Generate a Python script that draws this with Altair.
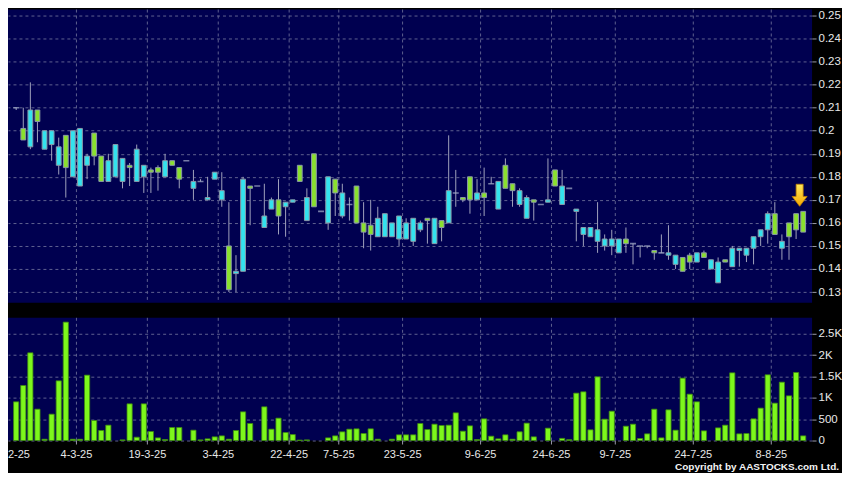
import altair as alt
import pandas as pd

# ---------------- data ----------------
opens = [0.210, 0.201, 0.193, 0.209, 0.192, 0.194, 0.185, 0.198, 0.180, 0.176,
         0.185, 0.199, 0.189, 0.178, 0.180, 0.178, 0.185, 0.178, 0.180, 0.183,
         0.184, 0.180, 0.187, 0.184, 0.187, 0.175, 0.178, 0.170, 0.179, 0.170,
         0.150, 0.138, 0.139, 0.176, 0.176, 0.158, 0.166, 0.170, 0.167, 0.169,
         0.185, 0.161, 0.190, 0.165, 0.160, 0.179, 0.163, 0.168, 0.176, 0.160,
         0.159, 0.154, 0.154, 0.154, 0.153, 0.153, 0.152, 0.157, 0.162, 0.151,
         0.161, 0.160, 0.173, 0.171, 0.180, 0.170, 0.173, 0.177, 0.166, 0.185,
         0.177, 0.168, 0.162, 0.170, 0.168, 0.169, 0.183, 0.168, 0.175, 0.165,
         0.155, 0.154, 0.152, 0.150, 0.150, 0.147, 0.153, 0.151, 0.150, 0.150,
         0.148, 0.147, 0.146, 0.142, 0.145, 0.146, 0.143, 0.147, 0.140, 0.134,
         0.144, 0.141, 0.148, 0.146, 0.149, 0.154, 0.157, 0.164, 0.149, 0.160,
         0.164, 0.165]
highs = [0.210, 0.210, 0.221, 0.209, 0.200, 0.200, 0.197, 0.198, 0.200, 0.201,
         0.190, 0.199, 0.189, 0.190, 0.194, 0.188, 0.186, 0.194, 0.185, 0.184,
         0.185, 0.190, 0.187, 0.184, 0.187, 0.183, 0.179, 0.180, 0.182, 0.182,
         0.169, 0.146, 0.180, 0.176, 0.176, 0.177, 0.171, 0.179, 0.169, 0.170,
         0.185, 0.175, 0.190, 0.165, 0.180, 0.179, 0.177, 0.171, 0.176, 0.169,
         0.170, 0.167, 0.164, 0.160, 0.163, 0.162, 0.162, 0.161, 0.162, 0.162,
         0.161, 0.198, 0.183, 0.171, 0.180, 0.179, 0.184, 0.180, 0.178, 0.188,
         0.177, 0.175, 0.172, 0.170, 0.168, 0.188, 0.183, 0.183, 0.175, 0.166,
         0.158, 0.158, 0.169, 0.155, 0.157, 0.153, 0.158, 0.151, 0.150, 0.150,
         0.148, 0.155, 0.159, 0.146, 0.145, 0.147, 0.147, 0.148, 0.144, 0.145,
         0.144, 0.150, 0.149, 0.149, 0.154, 0.157, 0.165, 0.169, 0.155, 0.160,
         0.164, 0.165]
lows = [0.209, 0.196, 0.192, 0.195, 0.192, 0.187, 0.181, 0.171, 0.180, 0.176,
        0.179, 0.185, 0.178, 0.178, 0.180, 0.175, 0.176, 0.178, 0.173, 0.173,
        0.174, 0.180, 0.185, 0.175, 0.187, 0.170, 0.178, 0.170, 0.179, 0.167,
        0.130, 0.130, 0.139, 0.159, 0.176, 0.158, 0.166, 0.155, 0.154, 0.169,
        0.178, 0.161, 0.167, 0.165, 0.157, 0.163, 0.162, 0.161, 0.160, 0.149,
        0.148, 0.154, 0.154, 0.154, 0.150, 0.153, 0.150, 0.156, 0.151, 0.151,
        0.152, 0.160, 0.167, 0.169, 0.164, 0.170, 0.163, 0.177, 0.166, 0.175,
        0.167, 0.167, 0.162, 0.161, 0.168, 0.169, 0.176, 0.168, 0.175, 0.152,
        0.150, 0.154, 0.147, 0.148, 0.146, 0.147, 0.147, 0.142, 0.145, 0.149,
        0.144, 0.147, 0.144, 0.140, 0.139, 0.140, 0.143, 0.145, 0.140, 0.134,
        0.143, 0.141, 0.141, 0.143, 0.142, 0.150, 0.151, 0.155, 0.144, 0.144,
        0.153, 0.156]
closes = [0.210, 0.196, 0.209, 0.204, 0.200, 0.200, 0.193, 0.184, 0.200, 0.201,
          0.189, 0.189, 0.178, 0.187, 0.194, 0.188, 0.184, 0.192, 0.185, 0.182,
          0.182, 0.187, 0.185, 0.179, 0.187, 0.178, 0.178, 0.171, 0.182, 0.174,
          0.131, 0.139, 0.179, 0.175, 0.176, 0.163, 0.170, 0.163, 0.169, 0.170,
          0.178, 0.171, 0.167, 0.165, 0.180, 0.173, 0.173, 0.168, 0.160, 0.156,
          0.155, 0.162, 0.164, 0.160, 0.163, 0.160, 0.162, 0.160, 0.161, 0.162,
          0.158, 0.174, 0.173, 0.170, 0.170, 0.173, 0.171, 0.177, 0.178, 0.175,
          0.174, 0.174, 0.171, 0.169, 0.168, 0.170, 0.176, 0.176, 0.175, 0.166,
          0.158, 0.158, 0.157, 0.153, 0.153, 0.153, 0.151, 0.151, 0.150, 0.150,
          0.147, 0.147, 0.147, 0.146, 0.139, 0.143, 0.147, 0.145, 0.144, 0.143,
          0.143, 0.149, 0.149, 0.149, 0.154, 0.157, 0.164, 0.155, 0.152, 0.154,
          0.157, 0.156]
volumes = [905, 1287, 2051, 733, 30, 616, 1396, 2769, 30, 30,
           1529, 468, 234, 359, 0, 15, 858, 78, 858, 211,
           62, 23, 304, 304, 0, 242, 15, 39, 86, 109,
           31, 234, 671, 398, 0, 788, 265, 523, 187, 140,
           10, 15, 0, 0, 62, 109, 203, 265, 273, 164,
           273, 31, 0, 31, 133, 133, 133, 398, 257, 382,
           351, 359, 647, 218, 343, 23, 507, 101, 39, 133,
           31, 203, 406, 86, 0, 289, 0, 50, 20, 1108,
           1139, 250, 1490, 499, 686, 0, 335, 382, 47, 156,
           733, 62, 718, 242, 1459, 1084, 905, 226, 0, 296,
           359, 1583, 156, 164, 507, 757, 1537, 874, 1365, 1045,
           1591, 109]

date_positions = [8.5, 18.5, 28.5, 38.5, 45.5, 54.5, 65.5, 75.5, 84.5, 95.5, 106.5]
date_labels = ["4-3-25", "19-3-25", "3-4-25", "22-4-25", "7-5-25", "23-5-25",
               "9-6-25", "24-6-25", "9-7-25", "24-7-25", "8-8-25"]
cut_label = ["2-25"]
price_ticks = [0.13, 0.14, 0.15, 0.16, 0.17, 0.18, 0.19, 0.20, 0.21, 0.22, 0.23, 0.24, 0.25]
volume_ticks = [0, 500, 1000, 1500, 2000, 2500]
arrow_index = [110.5]
arrow_price = [0.172]
copyright_text = ["Copyright by AASTOCKS.com Ltd."]

# ---------------- styling ----------------
NAVY = "#000050"
GRID = "#5E6090"
CYAN = "#33E2EE"
GREEN = "#8AE02E"
EDGE = "#8A98A8"
WICK = "#A0A2BC"
FLAT = "#A8B2CC"
VOL_FILL = "#7DF71C"
VOL_EDGE = "#3E8A10"
LABEL = "#E8E8E8"
FONT = "Liberation Sans"

W = 806
PH = 294
VH = 123

df = pd.DataFrame({"i": list(range(len(opens))), "o": opens, "h": highs,
                   "l": lows, "c": closes, "v": volumes})
df["dir"] = ["up" if c > o else ("down" if c < o else "flat")
             for o, c in zip(opens, closes)]
ticks_df = pd.DataFrame({"pos": date_positions, "label": date_labels})
arrow_df = pd.DataFrame({"ax": arrow_index, "ay": arrow_price})

xscale = alt.Scale(domain=[-0.45, 111.55], nice=False, zero=False)
pscale = alt.Scale(domain=[0.1253, 0.2526], nice=False, zero=False)
vscale = alt.Scale(domain=[0, 2870], nice=False)

axis_common = dict(orient="right", grid=True, gridColor=GRID, gridDash=[3, 3],
                   gridWidth=1, domain=False, tickColor="#9A9AAA", tickSize=4,
                   labelColor=LABEL, labelFont=FONT, labelFontSize=11.5,
                   labelPadding=2, title=None)
paxis = alt.Axis(values=price_ticks, format=".2~f", **axis_common)
vaxis = alt.Axis(values=volume_ticks,
                 labelExpr="datum.value >= 1000 ? format(datum.value/1000, '~g') + 'K' : format(datum.value, 'd')",
                 **axis_common)

X = lambda f: alt.X(f, scale=xscale, axis=None, title=None)

# ---------------- price panel ----------------
vgrid = alt.Chart(ticks_df).mark_rule(color=GRID, strokeDash=[3, 3], strokeWidth=1).encode(
    x=X("pos:Q"))

wicks = alt.Chart(df).mark_rule(color=WICK, strokeWidth=1, clip=True).encode(
    x=X("i:Q"),
    y=alt.Y("l:Q", scale=pscale, axis=paxis, title=None),
    y2="h:Q")

bodies = alt.Chart(df).transform_filter("datum.dir != 'flat'").mark_bar(
    size=4.8, stroke=EDGE, strokeWidth=1, clip=True).encode(
    x=X("i:Q"),
    y=alt.Y("o:Q", scale=pscale, axis=paxis, title=None),
    y2="c:Q",
    fill=alt.Fill("dir:N", scale=alt.Scale(domain=["up", "down"], range=[CYAN, GREEN]),
                  legend=None))

flats = alt.Chart(df).transform_filter("datum.dir == 'flat'").mark_tick(
    orient="horizontal", size=6, thickness=1.6, color=FLAT, clip=True).encode(
    x=X("i:Q"),
    y=alt.Y("o:Q", scale=pscale, axis=paxis, title=None))

arrow_shape = "M-0.47,-1.47L0.47,-1.47L0.47,0.16L1,0.16L0,1.47L-1,0.16L-0.47,0.16Z"
arrow = alt.Chart(arrow_df).mark_point(
    shape=arrow_shape, size=225, filled=True, opacity=1, strokeWidth=0.8,
    stroke="#C08000",
    fill=alt.LinearGradient(gradient="linear", x1=0, y1=0, x2=0, y2=1,
                            stops=[alt.GradientStop(offset=0, color="#FFE85A"),
                                   alt.GradientStop(offset=1, color="#F5A800")])).encode(
    x=X("ax:Q"),
    y=alt.Y("ay:Q", scale=pscale, axis=paxis, title=None))

price = alt.layer(vgrid, wicks, bodies, flats, arrow).properties(width=W, height=PH)

# ---------------- volume panel ----------------
vgrid2 = alt.Chart(ticks_df).mark_rule(color=GRID, strokeDash=[3, 3], strokeWidth=1).encode(
    x=X("pos:Q"), y=alt.value(0), y2=alt.value(VH))

vbars = alt.Chart(df).transform_filter("datum.v > 0").mark_bar(
    size=5.2, fill=VOL_FILL, stroke=VOL_EDGE, strokeWidth=0.8).encode(
    x=X("i:Q"),
    y=alt.Y("v:Q", scale=vscale, axis=vaxis, title=None))

xticks = alt.Chart(ticks_df).mark_rule(color="#9A9AAA", strokeWidth=1).encode(
    x=X("pos:Q"), y=alt.value(VH), y2=alt.value(VH + 4))

xlabels = alt.Chart(ticks_df).mark_text(
    color=LABEL, font=FONT, fontSize=11, baseline="middle", align="center").encode(
    x=X("pos:Q"), y=alt.value(VH + 15), text="label:N")

cutlab = alt.Chart(pd.DataFrame({"t": cut_label})).mark_text(
    color=LABEL, font=FONT, fontSize=11, baseline="middle", align="left").encode(
    x=alt.value(0), y=alt.value(VH + 15), text="t:N")

copyr = alt.Chart(pd.DataFrame({"t": copyright_text})).mark_text(
    color="#F4F4F4", font=FONT, fontSize=10, fontWeight="bold",
    baseline="middle", align="right").encode(
    x=alt.value(W + 27), y=alt.value(VH + 27), text="t:N")

volume = alt.layer(vgrid2, vbars, xticks, xlabels, cutlab, copyr).properties(width=W, height=VH)

chart = alt.vconcat(price, volume, spacing=13).properties(
    padding=0, background="#000000").configure_view(fill=NAVY, stroke=None)

chart.save("out.html", embed_options={"renderer": "svg", "actions": False})
